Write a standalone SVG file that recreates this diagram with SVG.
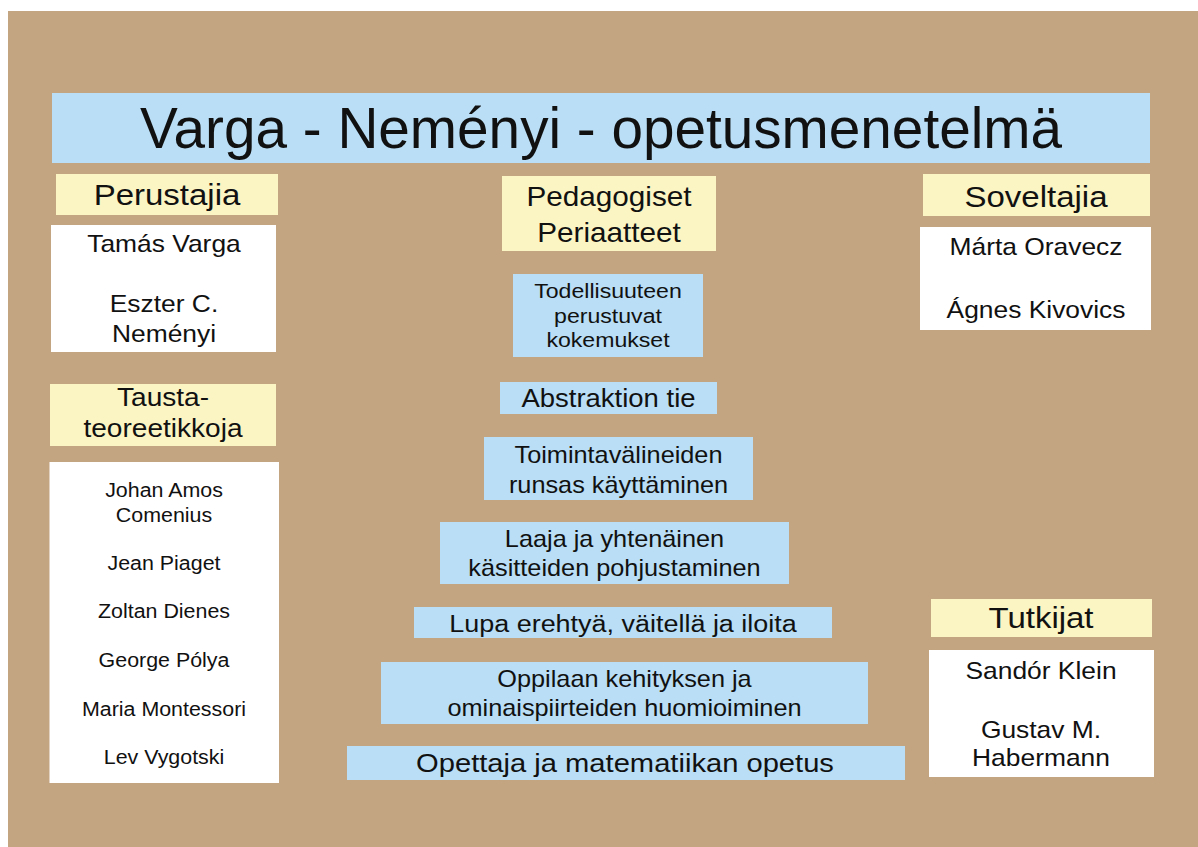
<svg xmlns="http://www.w3.org/2000/svg" width="1198" height="847" viewBox="0 0 1198 847">
<style>
text{font-family:"Liberation Sans",Arial,Helvetica,sans-serif;fill:#111;text-anchor:middle}
.blue{fill:#b9def5}
.yellow{fill:#fbf5c3}
.white{fill:#ffffff}
.h{font-size:30px}
.n{font-size:24px}
.s{font-size:20px}
</style>
<rect x="0" y="0" width="1198" height="847" fill="#ffffff"/>
<rect x="8" y="11" width="1190" height="836" fill="#c3a582"/>

<g id="title">
<rect class="blue" x="52" y="93" width="1098" height="70"/>
<text x="601" y="148" style="font-size:58px" textLength="922" lengthAdjust="spacingAndGlyphs">Varga - Neményi - opetusmenetelmä</text>
</g>

<g id="perustajia">
<rect class="yellow" x="56" y="174" width="222" height="41"/>
<g transform="translate(167 0) scale(1.1 1)"><text class="h" x="0" y="205">Perustajia</text></g>
</g>
<g id="perustajia-list">
<rect class="white" x="51" y="225" width="225" height="127"/>
<g transform="translate(164 0) scale(1.1 1)">
<text class="n" x="0" y="252">Tamás Varga</text>
<text class="n" x="0" y="312">Eszter C.</text>
<text class="n" x="0" y="342">Neményi</text>
</g>
</g>

<g id="tausta">
<rect class="yellow" x="50" y="384" width="226" height="62"/>
<g transform="translate(163 0) scale(1.08 1)">
<text style="font-size:26px" x="0" y="406">Tausta-</text>
<text style="font-size:26px" x="0" y="437">teoreetikkoja</text>
</g>
</g>
<g id="tausta-list">
<rect class="white" x="49.5" y="462" width="229.5" height="321"/>
<g transform="translate(164 0) scale(1.07 1)">
<text class="s" x="0" y="497">Johan Amos</text>
<text class="s" x="0" y="522">Comenius</text>
<text class="s" x="0" y="570">Jean Piaget</text>
<text class="s" x="0" y="618">Zoltan Dienes</text>
<text class="s" x="0" y="667">George Pólya</text>
<text class="s" x="0" y="716">Maria Montessori</text>
<text class="s" x="0" y="764">Lev Vygotski</text>
</g>
</g>

<g id="soveltajia">
<rect class="yellow" x="923" y="174" width="227" height="42"/>
<g transform="translate(1036 0) scale(1.1 1)"><text class="h" x="0" y="207">Soveltajia</text></g>
</g>
<g id="soveltajia-list">
<rect class="white" x="920" y="227" width="231" height="103"/>
<g transform="translate(1036 0) scale(1.1 1)">
<text class="n" x="0" y="255">Márta Oravecz</text>
<text class="n" x="0" y="318">Ágnes Kivovics</text>
</g>
</g>

<g id="tutkijat">
<rect class="yellow" x="931" y="599" width="221" height="38"/>
<g transform="translate(1041 0) scale(1.1 1)"><text class="h" x="0" y="628">Tutkijat</text></g>
</g>
<g id="tutkijat-list">
<rect class="white" x="929" y="650" width="225" height="127"/>
<g transform="translate(1041 0) scale(1.1 1)">
<text class="n" x="0" y="679">Sandór Klein</text>
<text class="n" x="0" y="738">Gustav M.</text>
<text class="n" x="0" y="766">Habermann</text>
</g>
</g>

<g id="pedagogiset">
<rect class="yellow" x="502" y="176" width="214" height="75"/>
<g transform="translate(609 0) scale(1.1 1)">
<text style="font-size:27px" x="0" y="206">Pedagogiset</text>
<text style="font-size:27px" x="0" y="242">Periaatteet</text>
</g>
</g>

<g id="p1">
<rect class="blue" x="513" y="274" width="190" height="83"/>
<g transform="translate(608 0) scale(1.1 1)">
<text style="font-size:21px" x="0" y="298">Todellisuuteen</text>
<text style="font-size:21px" x="0" y="323">perustuvat</text>
<text style="font-size:21px" x="0" y="347">kokemukset</text>
</g>
</g>

<g id="p2">
<rect class="blue" x="500" y="382" width="217" height="32"/>
<g transform="translate(608.5 0) scale(1.1 1)">
<text style="font-size:25px" x="0" y="407">Abstraktion tie</text>
</g>
</g>

<g id="p3">
<rect class="blue" x="484" y="437" width="269" height="63"/>
<g transform="translate(618.5 0) scale(1.1 1)">
<text style="font-size:23px" x="0" y="463">Toimintavälineiden</text>
<text style="font-size:23px" x="0" y="493">runsas käyttäminen</text>
</g>
</g>

<g id="p4">
<rect class="blue" x="440" y="522" width="349" height="62"/>
<g transform="translate(614.5 0) scale(1.1 1)">
<text style="font-size:23px" x="0" y="547">Laaja ja yhtenäinen</text>
<text style="font-size:23px" x="0" y="576">käsitteiden pohjustaminen</text>
</g>
</g>

<g id="p5">
<rect class="blue" x="414" y="607" width="418" height="31"/>
<g transform="translate(623 0) scale(1.1 1)">
<text style="font-size:24.5px" x="0" y="632">Lupa erehtyä, väitellä ja iloita</text>
</g>
</g>

<g id="p6">
<rect class="blue" x="381" y="662" width="487" height="62"/>
<g transform="translate(624.5 0) scale(1.1 1)">
<text style="font-size:23px" x="0" y="687">Oppilaan kehityksen ja</text>
<text style="font-size:23px" x="0" y="716">ominaispiirteiden huomioiminen</text>
</g>
</g>

<g id="p7">
<rect class="blue" x="347" y="746" width="558" height="34"/>
<g transform="translate(625 0) scale(1.1 1)">
<text style="font-size:26.5px" x="0" y="772">Opettaja ja matematiikan opetus</text>
</g>
</g>

<g id="connectors"></g>
</svg>
